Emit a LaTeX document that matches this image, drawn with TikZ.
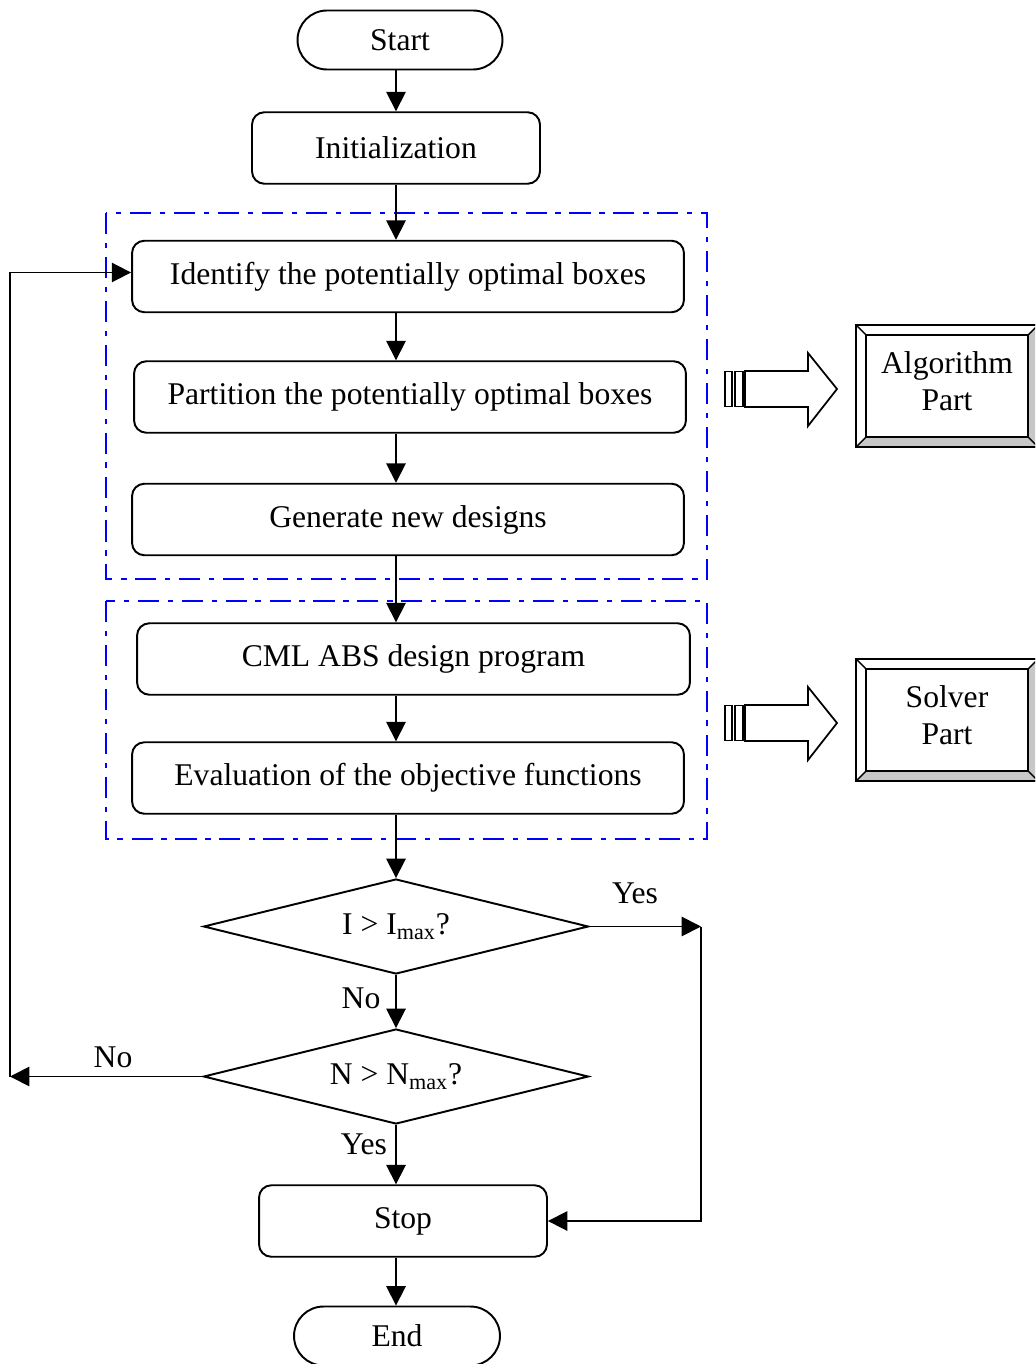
\documentclass[tikz,border=0pt]{standalone}
\usepackage{fontspec}
\setmainfont{Liberation Serif}
\usetikzlibrary{arrows.meta,shapes.geometric,shapes.misc}

\begin{document}
\begin{tikzpicture}[x=0.02cm,y=-0.02cm,
  every node/.style={font=\fontsize{18}{21.6}\selectfont},
  box/.style={draw,rounded corners=7pt,line width=1.1pt,minimum height=1.43cm,inner sep=0pt},
  term/.style={draw,rounded rectangle,line width=1.1pt,minimum width=4.1cm,minimum height=1.18cm,inner sep=0pt},
  cond/.style={draw,diamond,aspect=4,line width=1.1pt,minimum width=7.7cm,minimum height=1.9cm,inner sep=0pt},
  arr/.style={line width=1pt,-{Triangle[length=11pt,width=11pt]}},
  frame/.style={draw=blue,line width=1.5pt,dash pattern=on 12pt off 5pt on 3pt off 5pt},
  panel/.style={draw,line width=1pt,minimum width=3.64cm,minimum height=2.44cm,align=center,
    outer sep=0pt,inner sep=0pt,text depth=5.5pt,font=\fontsize{18}{20.8}\selectfont},
  bevel/.style={fill=black!22},
  blockarr/.pic={
    \draw[line width=1pt] (725,-17.5) rectangle (732,17.5);
    \draw[line width=1pt] (735,-17.5) rectangle (743,17.5);
    \draw[line width=1pt] (745,-18) -- (808,-18) -- (808,-36) -- (837,0)
      -- (808,37) -- (808,18) -- (745,18) -- cycle;
  }]

\useasboundingbox (0,0) rectangle (1035,1364);
\clip (0,0) rectangle (1035,1364);

% dash-dotted groupings
\draw[frame] (106,213) rectangle (707,579);
\draw[frame] (106,601) rectangle (707,839);

% flowchart steps
\node[term] (start) at (400,40) {Start};
\node[box,minimum width=5.76cm] (init) at (396,148) {Initialization};
\node[box,minimum width=11.04cm] (ident) at (408,276.5) {Identify the potentially optimal boxes};
\node[box,minimum width=11.04cm] (part) at (410,397) {Partition the potentially optimal boxes};
\node[box,minimum width=11.04cm] (gen) at (408,519.5) {Generate new designs};
\node[box,minimum width=11.06cm] (cml) at (413.5,659) {CML ABS design program};
\node[box,minimum width=11.04cm] (eval) at (408,778) {Evaluation of the objective functions};
\node[cond] (d1) at (396,926.5) {I > I\textsubscript{max}?};
\node[cond] (d2) at (396,1076.5) {N > N\textsubscript{max}?};
\node[box,minimum width=5.76cm] (stop) at (403,1221) {Stop};
\node[term,minimum width=4.12cm] (end) at (397,1336) {End};

\coordinate (col) at (396,0);
\coordinate (ycorner) at (701,926.5);
\coordinate (ncorner) at (10,1076.5);

% main flow
\draw[arr] (start.south -| col) -- (init.north -| col);
\draw[arr] (init.south -| col) -- (ident.north -| col);
\draw[arr] (ident.south -| col) -- (part.north -| col);
\draw[arr] (part.south -| col) -- (gen.north -| col);
\draw[arr] (gen.south -| col) -- (cml.north -| col);
\draw[arr] (cml.south -| col) -- (eval.north -| col);
\draw[arr] (eval.south -| col) -- (d1.north);
\draw[arr] (d1.south) -- (d2.north);
\draw[arr] (d2.south) -- (stop.north -| col);
\draw[arr] (stop.south -| col) -- (end.north -| col);

% branches
\draw[arr] (d1.east) -- (ycorner);
\draw[arr] (ycorner) |- (stop.east);
\draw[arr] (d2.west) -- (ncorner);
\draw[arr] (ncorner) |- ([yshift=0.08cm]ident.west);

% branch labels
\node at (635,893) {Yes};
\node at (361,998) {No};
\node at (113,1057) {No};
\node at (364,1144) {Yes};

% side panels
\node[panel] (alg) at (947,386) {Algorithm\\Part};
\node[panel] (sol) at (947,720) {Solver\\Part};
\foreach \p in {alg,sol} {
  \path (\p.south west) ++(10,-10) coordinate (\p-isw);
  \path (\p.south east) ++(-10,-10) coordinate (\p-ise);
  \path (\p.north west) ++(10,10) coordinate (\p-inw);
  \path (\p.north east) ++(-10,10) coordinate (\p-ine);
  \fill[bevel] (\p.south west) -- (\p.south east) -- (\p-ise) -- (\p-isw) -- cycle;
  \fill[bevel] (\p.south east) -- (\p.north east) -- (\p-ine) -- (\p-ise) -- cycle;
  \draw[line width=1pt] (\p-isw) rectangle (\p-ine);
  \draw[line width=0.8pt] (\p.south west) -- (\p-isw) (\p.south east) -- (\p-ise)
    (\p.north west) -- (\p-inw) (\p.north east) -- (\p-ine);
  \draw[line width=1pt] (\p.south west) rectangle (\p.north east);
}

% block arrows pointing to the panels
\pic at (0,389) {blockarr};
\pic at (0,723) {blockarr};
\end{tikzpicture}
\end{document}
